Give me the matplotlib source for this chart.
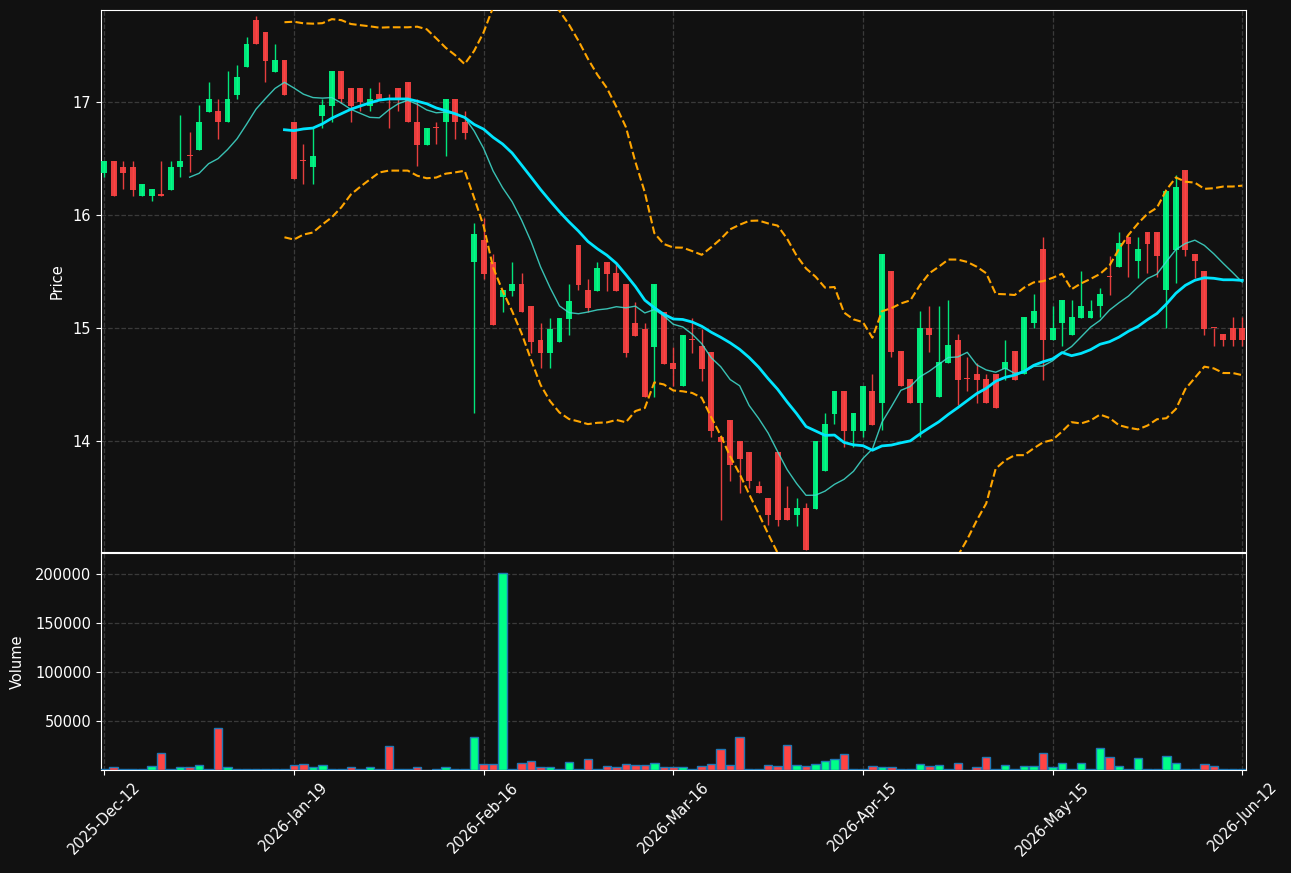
import numpy as np
import pandas as pd
import matplotlib
matplotlib.use("Agg")
import matplotlib.pyplot as plt

# ---- data ----
opens = [16.37, 16.48, 16.42, 16.42, 16.17, 16.17, 16.17, 16.22, 16.42, 16.52,
         16.57, 16.91, 16.92, 16.82, 17.06, 17.31, 17.72, 17.62, 17.26, 17.37,
         16.82, 16.475, 16.42, 16.87, 16.96, 17.27, 17.12, 17.12, 16.96, 17.07,
         17.02, 17.12, 17.17, 16.82, 16.62, 16.77, 16.82, 17.02, 16.82, 15.58,
         15.78, 15.58, 15.27, 15.33, 15.39, 15.19, 14.89, 14.78, 14.88, 15.08,
         15.73, 15.34, 15.33, 15.58, 15.49, 15.39, 15.04, 14.99, 14.83, 15.14,
         14.69, 14.49, 14.89, 14.84, 14.79, 14.04, 14.19, 14.00, 13.90, 13.60,
         13.50, 13.90, 13.41, 13.35, 13.41, 13.40, 13.74, 14.24, 14.44, 14.09,
         14.09, 14.44, 14.34, 15.50, 14.80, 14.55, 14.34, 15.00, 14.39, 14.69,
         14.89, 14.55, 14.59, 14.55, 14.59, 14.64, 14.80, 14.59, 15.04, 15.70,
         14.89, 15.04, 14.94, 15.09, 15.09, 15.19, 15.45, 15.54, 15.80, 15.59,
         15.85, 15.85, 15.34, 15.69, 16.40, 15.65, 15.50, 15.00, 14.95, 15.00,
         15.00]
closes = [16.48, 16.17, 16.37, 16.22, 16.27, 16.23, 16.17, 16.42, 16.48, 16.52,
          16.82, 17.02, 16.82, 17.02, 17.22, 17.51, 17.51, 17.36, 17.37, 17.06,
          16.32, 16.475, 16.52, 16.97, 17.27, 17.02, 16.96, 17.00, 17.02, 17.02,
          17.02, 17.02, 16.82, 16.62, 16.77, 16.77, 17.02, 16.82, 16.72, 15.83,
          15.48, 15.03, 15.34, 15.39, 15.14, 14.88, 14.78, 14.99, 15.09, 15.24,
          15.38, 15.18, 15.53, 15.48, 15.33, 14.78, 14.93, 14.39, 15.39, 14.68,
          14.64, 14.94, 14.89, 14.64, 14.09, 13.99, 13.79, 13.84, 13.65, 13.54,
          13.35, 13.30, 13.30, 13.41, 13.04, 14.00, 14.15, 14.44, 14.09, 14.25,
          14.49, 14.14, 15.65, 14.79, 14.49, 14.34, 15.00, 14.94, 14.70, 14.85,
          14.54, 14.55, 14.54, 14.34, 14.29, 14.70, 14.54, 15.10, 15.15, 14.89,
          15.00, 15.25, 15.10, 15.19, 15.15, 15.30, 15.45, 15.75, 15.74, 15.70,
          15.74, 15.64, 16.21, 16.25, 15.69, 15.59, 14.99, 15.00, 14.89, 14.89,
          14.89]
highs = [16.48, 16.48, 16.48, 16.48, 16.27, 16.23, 16.48, 16.48, 16.88, 16.73,
         16.97, 17.17, 17.02, 17.27, 17.32, 17.57, 17.76, 17.62, 17.51, 17.37,
         16.82, 16.63, 16.77, 17.02, 17.27, 17.27, 17.12, 17.12, 17.12, 17.17,
         17.07, 17.12, 17.17, 17.02, 16.77, 16.82, 17.02, 17.02, 16.92, 15.93,
         15.97, 15.65, 15.34, 15.58, 15.49, 15.19, 15.04, 15.09, 15.09, 15.39,
         15.73, 15.43, 15.58, 15.58, 15.57, 15.39, 15.23, 15.04, 15.39, 15.14,
         14.83, 14.94, 15.09, 14.99, 14.79, 14.04, 14.19, 14.00, 13.90, 13.65,
         13.50, 13.90, 13.60, 13.50, 13.45, 14.00, 14.25, 14.44, 14.44, 14.25,
         14.49, 14.59, 15.65, 15.50, 14.80, 14.55, 15.15, 15.19, 15.19, 15.25,
         14.95, 14.74, 14.69, 14.59, 14.59, 14.89, 14.80, 15.10, 15.30, 15.80,
         15.19, 15.25, 15.25, 15.50, 15.25, 15.35, 15.64, 15.85, 15.80, 15.80,
         15.85, 15.85, 16.21, 16.35, 16.40, 15.65, 15.50, 15.00, 14.95, 15.10,
         15.10]
lows = [16.33, 16.17, 16.23, 16.17, 16.17, 16.12, 16.17, 16.22, 16.33, 16.38,
        16.57, 16.91, 16.67, 16.82, 17.02, 17.31, 17.51, 17.17, 17.26, 17.06,
        16.32, 16.27, 16.27, 16.77, 16.82, 16.99, 16.82, 16.92, 16.92, 17.02,
        16.77, 16.92, 16.82, 16.43, 16.62, 16.63, 16.52, 16.67, 16.67, 14.25,
        15.43, 15.03, 15.14, 15.28, 15.14, 14.78, 14.65, 14.65, 14.88, 14.94,
        15.34, 15.14, 15.33, 15.33, 15.33, 14.74, 14.93, 14.39, 14.39, 14.68,
        14.49, 14.49, 14.78, 14.53, 14.04, 13.30, 13.65, 13.54, 13.59, 13.54,
        13.26, 13.25, 13.30, 13.25, 13.04, 13.40, 13.74, 14.15, 13.95, 13.95,
        14.04, 14.14, 14.10, 14.74, 14.49, 14.34, 14.04, 14.79, 14.39, 14.69,
        14.32, 14.44, 14.34, 14.34, 14.29, 14.54, 14.54, 14.59, 15.00, 14.54,
        14.89, 14.84, 14.94, 15.09, 15.09, 15.10, 15.29, 15.54, 15.45, 15.44,
        15.49, 15.45, 15.00, 15.40, 15.64, 15.44, 14.94, 14.84, 14.84, 14.84,
        14.84]
volumes = [1300, 2800, 700, 700, 1500, 3800, 17100, 1500, 2800, 2800,
           4800, 700, 42700, 2800, 1500, 700, 1500, 700, 1500, 700,
           4800, 5800, 2800, 4800, 1500, 1500, 2800, 700, 2800, 1500,
           24300, 700, 1500, 2800, 400, 700, 2800, 700, 1500, 33500,
           5800, 5800, 201700, 700, 6900, 8900, 2800, 2800, 1500, 7900,
           1500, 11000, 700, 3800, 2800, 5800, 4800, 4800, 6900, 2800,
           2800, 2800, 700, 3800, 5800, 21200, 4800, 33500, 1500, 1500,
           4800, 3800, 25300, 4800, 3800, 5800, 8900, 11000, 16100, 1500,
           700, 3800, 2800, 2800, 700, 1500, 5800, 3800, 4800, 700,
           6900, 300, 2800, 13000, 700, 4800, 1500, 3800, 3800, 17100,
           2800, 6900, 700, 6900, 1500, 22200, 13000, 3800, 1500, 12000,
           1500, 700, 14000, 6900, 1500, 1500, 5800, 3800, 700, 700,
           1500]
tick_positions = [0, 20, 40, 60, 80, 100, 120]
tick_labels = ["2025-Dec-12", "2026-Jan-19", "2026-Feb-16", "2026-Mar-16",
               "2026-Apr-15", "2026-May-15", "2026-Jun-12"]

# ---- derived series ----
df = pd.DataFrame({"open": opens, "high": highs, "low": lows,
                   "close": closes, "volume": volumes})
df["ma10"] = df["close"].rolling(10).mean()
df["ma20"] = df["close"].rolling(20).mean()
std20 = df["close"].rolling(20).std()
df["upper"] = df["ma20"] + 2 * std20
df["lower"] = df["ma20"] - 2 * std20
x = np.arange(len(df))

BG = "#111111"
UP = "#00ff88"
DOWN = "#ff4444"
up = df["close"] > df["open"]
colors = np.where(up, UP, DOWN)

fig = plt.figure(figsize=(12.91, 8.73), dpi=100, facecolor=BG)
ax = fig.add_axes([0.0782, 0.3677, 0.8870, 0.6208])
axv = fig.add_axes([0.0782, 0.1180, 0.8870, 0.2487], sharex=ax)

for a in (ax, axv):
    a.set_facecolor(BG)
    for s in a.spines.values():
        s.set_color("white")
    a.tick_params(colors="white", labelsize=10.5)
    a.grid(True, color="#3a3a3a", linestyle="--", linewidth=0.9)
    a.set_axisbelow(True)

# candles
ax.vlines(x, df["low"], df["high"], colors=colors, linewidth=1.0, alpha=0.9, zorder=2)
body_low = np.minimum(df["open"], df["close"])
body_h = np.maximum(np.abs(df["close"] - df["open"]), 0.01)
ax.bar(x, body_h, bottom=body_low, width=0.62, color=colors, alpha=0.9,
       linewidth=0, zorder=3)

# overlays
ax.plot(x, df["ma10"], color="#40e0d0", linewidth=1.0, alpha=0.85, zorder=4)
ax.plot(x, df["ma20"], color="#00e5ff", linewidth=2.0, zorder=5)
ax.plot(x, df["upper"], color="#ffa500", linestyle="--", linewidth=1.5, zorder=4)
ax.plot(x, df["lower"], color="#ffa500", linestyle="--", linewidth=1.5, zorder=4)

ax.set_ylim(13.02, 17.81)
ax.set_yticks([14, 15, 16, 17])
ax.set_xlim(-0.35, 120.4)
ax.set_ylabel("Price", color="white", fontsize=10.5, labelpad=5.5)
plt.setp(ax.get_xticklabels(), visible=False)
ax.tick_params(axis="x", length=0)

# volume
axv.bar(x, df["volume"], width=0.9, color=colors, edgecolor="#1f77b4",
        linewidth=1.0, zorder=3)
axv.set_ylim(0, df["volume"].max() * 1.1)
axv.set_yticks([50000, 100000, 150000, 200000])
axv.set_ylabel("Volume", color="white", fontsize=10.5, labelpad=7.5)
axv.set_xticks(tick_positions)
axv.set_xticklabels(tick_labels, rotation=45)
axv.ticklabel_format(axis="y", style="plain")

fig.savefig("out.png", dpi=100, facecolor=BG)
